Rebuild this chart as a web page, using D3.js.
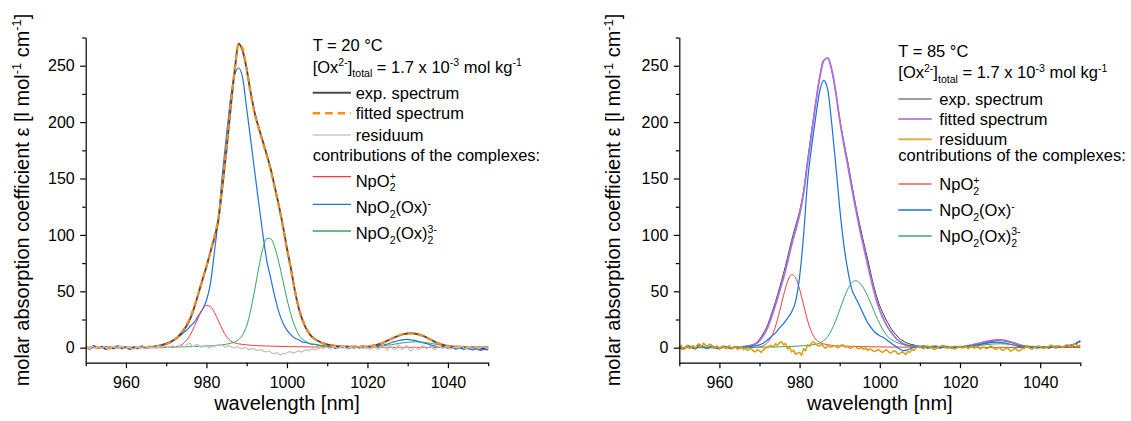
<!DOCTYPE html>
<html><head><meta charset="utf-8">
<script src="https://cdn.jsdelivr.net/npm/d3@7"></script>
<style>
body{margin:0;background:#fff}
svg{display:block}
text{font-family:"Liberation Sans",Arial,sans-serif;white-space:pre}
</style>
</head><body>
<svg id="c" width="1131" height="421"></svg>
<script>
// ---------- data ----------
const wavelengthStart = 950, wavelengthStep = 1, residuumStep = 0.5;
const xTicks = [960, 980, 1000, 1020, 1040];
const xMinorTicks = [950, 970, 990, 1010, 1030, 1050];
const yTicks = [0, 50, 100, 150, 200, 250];
const yMinorTicks = [25, 75, 125, 175, 225, 275];

// 20 °C panel (1 nm steps)
const leftExp = [0.5,-0.8,1.2,-0.3,0.9,-1.1,0.4,-0.6,1.0,-0.2,
 0.6,-0.9,0.3,-0.5,0.8,0.2,0.6,1.0,1.6,2.4,
 3.5,5.0,7.0,10,14,19,26,36,48,60,
 72,85,98,114,144,176,212,245,269.5,263,
 247,226,208,195,183,171,158,142,126,108,
 88,70,50,34,23,15.5,10.5,7.5,5.5,4,
 3,2.2,1.6,1.2,0.4,1.1,0.3,0.9,0.6,1.0,
 0.8,1.5,2.2,3.3,4.6,6.2,8.0,9.6,11.0,12.0,
 12.6,12.8,12.4,11.5,10.2,8.5,6.6,4.8,3.3,2.2,
 1.4,0.9,0.3,0.8,-0.2,0.5,-0.5,0.2,-0.8,-0.3,
 -0.6];
const leftFit = [0.1,0.1,0.1,0.1,0.1,0.1,0.2,0.2,0.2,0.2,
 0.3,0.3,0.3,0.4,0.5,0.6,0.8,1.0,1.4,2.0,
 3.0,4.5,6.8,10,14.5,20,27,37,48,60,
 72,85,99,116,145,178,214,246,269,265,
 247,225,207,194,182,170,157,141,125,107,
 87,69,50,35,24,16,11,7.5,5.2,3.6,
 2.6,2.0,1.6,1.3,1.1,1.0,1.0,1.0,1.0,1.1,
 1.3,1.7,2.4,3.4,4.7,6.3,8.0,9.6,11.0,12.0,
 12.6,12.7,12.3,11.4,10.1,8.4,6.6,4.9,3.5,2.4,
 1.7,1.2,0.9,0.7,0.6,0.5,0.5,0.4,0.4,0.4,
 0.4];
// residuum in 0.5 nm steps
const leftResiduum = [0.8,-0.3,-1.2,1.1,0.5,-0.6,1.4,0.2,-0.7,0.9,
 0.3,-1.0,-1.5,0.4,0.9,-0.8,-0.4,1.3,1.1,-0.5,
 -0.8,0.6,0.4,-1.1,-1.3,0.2,0.7,-0.9,-0.2,1.2,
 1.0,-0.4,-0.6,0.8,0.5,-0.7,1.2,0.1,-0.3,1.5,
 0.9,-0.2,0.4,1.7,1.3,0.1,0.6,2.0,1.8,0.9,
 2.2,3.9,3.5,1.2,1.6,2.9,2.4,0.6,0.8,1.9,
 1.4,-0.3,0.2,1.5,1.1,2.2,2.6,3.1,1.9,0.8,
 0.7,1.8,1.3,0.1,-0.2,0.9,0.4,-0.8,-0.6,0.3,
 -0.3,-1.6,-1.2,-0.6,-1.5,-2.4,-2.3,-1.6,-2.8,-3.5,
 -3.4,-2.7,-4.1,-4.8,-5.2,-4.4,-5.8,-6.4,-4.9,-5.5,
 -4.6,-3.6,-3.7,-4.8,-4.1,-3.1,-2.8,-3.9,-3.2,-2.2,
 -1.9,-2.8,-1.4,-0.8,-2.0,-1.1,-0.6,0.2,-0.9,0.5,
 0.3,-1.0,-0.8,0.7,0.6,-0.5,-0.4,1.1,0.9,-0.3,
 -1.1,0.6,0.2,-0.9,-0.5,0.8,0.8,-0.6,-0.9,0.7,
 0.4,-0.8,-1.3,0.9,1.0,-1.5,-0.6,1.4,1.6,-0.9,
 -2.2,1.2,0.9,-1.4,-1.8,2.4,2.1,-1.6,-0.7,1.8,
 1.4,-2.8,-2.5,1.0,0.8,-1.7,-1.2,2.0,1.7,-0.8,
 -0.4,1.2,0.6,-1.9,-1.5,0.9,1.1,-0.6,-0.3,0.8,
 0.7,-0.9,-1.0,0.6,0.4,-0.5,0.9,1.3,-0.6,-1.1,
 0.3,0.7,-0.8,0.2,1.2,-0.7,-0.2,0.9,0.6,-0.5,
 -0.4];
const leftNpO2 = [0,0,0,0,0,0,0,0,0,0,
 0,0,0,0,0,0,0,0,0.1,0.1,
 0.2,0.3,0.6,1.3,3.0,6.3,11.5,18.8,26.8,33.8,
 37.4,36.4,31.3,23.6,15.9,9.8,6.0,4.2,3.4,2.9,
 2.5,2.2,2.0,1.8,1.6,1.5,1.4,1.3,1.2,1.1,
 1.0,0.9,0.9,0.8,0.8,0.7,0.7,0.6,0.6,0.6,
 0.5,0.5,0.5,0.5,0.5,0.4,0.4,0.4,0.4,0.4,
 0.4,0.4,0.4,0.4,0.3,0.3,0.3,0.3,0.3,0.3,
 0.3,0.3,0.3,0.3,0.3,0.3,0.3,0.3,0.3,0.3,
 0.3,0.3,0.2,0.2,0.2,0.2,0.2,0.2,0.2,0.2,
 0.2];
const leftNpO2Ox = [0.9,-1.5,1.8,-0.4,0.6,1.3,-0.9,0.2,1.6,-1.1,
 0.4,-1.3,0.8,-0.7,1.5,0.3,0.9,1.2,1.9,2.3,
 3.6,4.8,6.9,9.1,12.4,15.3,19.2,22.6,28.4,34.1,
 41.8,57.0,85.5,116,155,189,221,242,248,239,
 212,184,156,128,101,77,61,45,31.5,21.8,
 15.6,11.4,8.3,6.9,4.8,4.4,3.1,2.9,2.2,1.6,
 0.9,1.8,-0.6,0.7,1.3,-0.9,0.5,1.1,-0.4,0.8,
 -0.2,1.0,0.6,1.6,2.4,3.3,4.6,5.5,6.6,7.0,
 7.3,6.8,6.2,5.1,4.2,3.4,2.1,1.3,0.4,0.9,
 -0.5,0.3,-1.2,-0.4,-1.6,-0.8,-2.0,-1.1,-2.4,-1.5,
 -2.0];
const leftNpO2Ox2 = [0.1,0.1,0.1,0.1,0.1,0.1,0.1,0.1,0.1,0.1,
 0.2,0.2,0.2,0.3,0.3,0.3,0.4,0.4,0.4,0.5,
 0.5,0.6,0.6,0.7,0.7,0.8,0.9,1.0,1.1,1.3,
 1.5,1.7,1.9,2.2,2.6,3.1,3.9,5.0,7.2,11.5,
 19.4,33.4,51.5,71.1,87.8,97.0,96.5,88.7,75.4,59.4,
 43.2,29.2,18.6,11.2,7.0,4.8,3.5,2.7,2.2,1.9,
 1.7,1.5,1.4,1.3,1.2,1.2,1.1,1.1,1.1,1.1,
 1.1,1.2,1.3,1.5,1.8,2.2,2.7,3.3,3.9,4.4,
 4.8,5.1,5.2,5.1,4.8,4.3,3.7,3.0,2.5,2.0,
 1.7,1.5,1.3,1.2,1.1,1.1,1.0,1.0,1.0,1.0,
 1.0];

// 85 °C panel (1 nm steps)
const rightExp = [0.6,-1.4,1.8,0.3,-0.9,2.4,1.1,-0.5,1.5,0.2,
 -0.8,1.2,0.4,-0.6,0.9,0.1,0.8,1.5,2.4,3.8,
 7.5,13,20,30,41,53,66,80,95,108,
 121,139,166,192,217,240,255,256.5,246,227,
 203,183,165,145,126,109,93,78,62,48,
 37,29,22,16,11.5,8,5.5,3.8,2.8,2.0,
 1.2,0.5,1.3,-0.2,0.9,0.4,1.1,-0.3,0.7,0.2,
 0.9,0.3,1.4,1.2,2.1,2.8,3.9,4.8,5.6,6.2,
 6.4,6.0,5.2,4.3,3.2,2.3,1.5,0.6,1.1,0.2,
 0.8,-0.4,1.0,0.5,-0.3,1.2,0.6,1.5,2.0,3.5,
 5.5];
const rightFit = [0.4,-1.1,1.5,0.6,-0.7,2.0,0.9,-0.2,1.2,0.5,
 -0.5,1.0,0.6,-0.3,0.7,0.4,1.0,1.3,2.0,3.2,
 6.0,11,17.5,27,38,50,62,76,91,104,
 118,137,164,190,216,239,254.5,257,247,227,
 202,181,162,142,123,105,89,73,58,44,
 33,25,18,13,8.5,5.5,3.2,1.8,1.2,1.6,
 0.8,1.4,0.3,1.1,0.5,-0.2,1.3,0.6,0.1,0.9,
 0.5,1.2,1.8,2.3,3.4,4.2,5.1,5.8,6.5,6.9,
 7.0,6.6,5.9,4.8,3.6,2.5,1.4,1.0,0.5,0.9,
 0.3,0.8,0.1,0.6,0.9,0.4,1.1,1.7,2.4,4.0,
 6.0];
// residuum in 0.5 nm steps
const rightResiduum = [0.5,2.1,-1.8,-0.4,2.2,-0.9,0.9,1.8,-0.6,2.7,
 3.4,0.6,4.1,2.3,1.2,3.0,2.6,-0.5,0.4,1.6,
 -1.0,0.8,1.5,-0.7,0.2,1.9,-1.4,0.5,1.1,-1.6,
 -0.3,0.9,-1.8,-0.4,-2.4,-0.9,-1.0,-3.1,-3.6,-1.7,
 -2.8,-4.2,-1.5,-0.3,0.4,1.5,1.8,0.6,3.6,2.2,
 4.4,5.4,2.5,3.8,-1.2,0.5,-3.8,-2.2,-5.9,-4.8,
 -4.1,-6.8,-0.8,-2.6,2.6,1.0,4.3,5.2,3.2,2.0,
 1.5,3.4,0.8,-0.6,2.1,0.9,0.4,1.9,1.6,-0.2,
 0.9,2.6,2.2,0.3,1.1,-0.5,-0.3,1.4,0.8,-0.8,
 -0.9,0.5,-1.6,-0.2,-2.4,-1.0,-1.8,-3.3,-3.1,-1.6,
 -2.5,-4.0,-3.6,-1.9,-2.9,-4.6,-4.2,-2.7,-3.4,-5.6,
 -5.1,-3.6,-4.6,-6.2,-3.2,-4.1,-1.5,-2.4,-0.4,0.9,
 0.8,-0.5,-0.9,1.2,1.5,-0.2,0.3,-1.5,-1.2,0.4,
 0.9,2.0,1.7,-0.1,-0.5,1.1,0.6,-1.2,-0.8,0.5,
 1.2,-0.4,0.1,1.3,-0.9,0.2,1.4,-0.6,0.5,1.2,
 -1.3,0.3,0.7,-0.9,-0.4,1.5,1.0,-0.8,-1.6,0.2,
 -0.6,-2.2,-1.9,-0.3,-0.8,-2.9,-2.4,-0.9,-1.1,-2.8,
 -2.6,-0.4,-0.9,1.1,0.6,-0.8,-1.4,0.5,0.3,1.6,
 1.1,-0.3,-0.7,0.9,0.8,2.2,1.9,0.1,0.2,1.7,
 1.4,0.2,0.9,2.6,2.2,1.0,1.6,3.4,2.8,1.5,
 2.4];
const rightNpO2 = [0,0,0,0,0,0,0,0,0,0,
 0,0,0,0,0,0,0,0,0.1,0.2,
 0.6,1.8,4.5,9.9,19.1,32.0,46.5,58.8,64.8,62.2,
 51.9,37.7,23.9,13.6,7.6,4.8,3.4,2.6,2.1,1.8,
 1.6,1.4,1.3,1.2,1.1,1.0,0.9,0.9,0.8,0.8,
 0.7,0.7,0.6,0.6,0.6,0.5,0.5,0.5,0.5,0.4,
 0.4,0.4,0.4,0.4,0.4,0.4,0.3,0.3,0.3,0.3,
 0.3,0.3,0.3,0.3,0.3,0.3,0.3,0.3,0.3,0.3,
 0.3,0.3,0.3,0.3,0.2,0.2,0.2,0.2,0.2,0.2,
 0.2,0.2,0.2,0.2,0.2,0.2,0.2,0.2,0.2,0.2,
 0.2];
const rightNpO2Ox = [0.8,-1.6,1.9,0.4,-1.0,2.1,0.7,-0.8,1.4,-0.3,
 -1.1,1.3,0.2,-0.9,0.6,-0.4,0.5,0.9,1.2,1.8,
 2.5,4.1,6.8,9.9,13.2,17.5,21.4,26.2,31.5,41.0,
 63,100,148,178,204,227,237,229,199,163,
 124,92,69,52,44,37,29,22,17,13,
 10.6,8.8,6.2,3.4,1.2,-1.4,-2.6,-1.8,-0.4,0.9,
 0.2,1.4,-0.5,0.8,1.6,-0.3,0.7,1.2,-0.6,0.4,
 1.1,0.5,1.5,2.0,2.2,2.9,3.5,4.2,4.6,5.0,
 4.8,4.3,3.5,2.6,1.8,0.9,1.3,0.2,0.8,-0.4,
 0.5,1.0,-0.3,0.7,1.4,0.2,1.1,1.8,2.5,3.9,
 6.2];
const rightNpO2Ox2 = [0.1,0.1,0.1,0.1,0.1,0.1,0.1,0.1,0.1,0.1,
 0.2,0.2,0.2,0.3,0.3,0.3,0.3,0.4,0.4,0.4,
 0.5,0.5,0.6,0.6,0.7,0.8,0.9,1.0,1.1,1.3,
 1.5,1.7,2.0,2.4,3.0,4.0,6.3,9.8,15.9,23.9,
 33.5,43.2,51.8,57.6,59.4,57.4,52.5,45.5,37.3,28.8,
 21.1,14.6,9.8,7.0,5.0,3.6,2.8,2.2,1.8,1.5,
 1.3,1.2,1.1,1.0,1.0,1.0,1.0,1.0,1.0,1.0,
 1.0,1.1,1.2,1.4,1.7,2.1,2.5,2.9,3.2,3.4,
 3.5,3.4,3.1,2.7,2.3,1.9,1.6,1.4,1.2,1.1,
 1.0,1.0,1.0,1.0,1.0,1.0,1.0,1.0,1.0,1.0,
 1.0];

const wavelengths = leftExp.map((_, i) => wavelengthStart + i * wavelengthStep);
const wavelengthsFine = leftResiduum.map((_, i) => wavelengthStart + i * residuumStep);

// ---------- drawing ----------
const svg = d3.select('#c');
svg.append('rect').attr('width', 1131).attr('height', 421).attr('fill', '#fff');
const FONT = '"Liberation Sans", Arial, sans-serif';

function rich(g, x, y, parts, size) {
  let cx = x, pending = 0;
  parts.forEach(p => {
    const fs = p.s ? size * 0.64 : size;
    const dy = p.s === 'sup' ? -size * 0.38 : (p.s === 'sub' ? size * 0.3 : 0);
    const t = g.append('text').attr('x', cx).attr('y', y + dy)
      .attr('font-size', fs).attr('fill', '#000').style('white-space', 'pre').text(p.t);
    const w = t.node().getComputedTextLength();
    if (p.stack) { pending = w; } else { cx += Math.max(w, pending); pending = 0; }
  });
  return cx - x;
}

const yScale = d3.scaleLinear().domain([-13.3, 275.2]).range([362.7, 37.3]);

const panels = [
  {
    xr: [85.7, 488.2], ytitleX: 28.5,
    temp: 'T = 20 °C',
    series: [
      {d: leftNpO2Ox, c: '#2470e0', w: 1.2},
      {d: leftNpO2, c: '#f03c3c', w: 1},
      {d: leftNpO2Ox2, c: '#2fa660', w: 1},
      {d: leftExp, c: '#4a4a4a', w: 1.9},
      {d: leftFit, c: '#ff8c1a', w: 2.2, dash: '6,4'},
      {d: leftResiduum, c: '#c4c4c4', w: 1.3, fine: true}
    ],
    legend: {x: 312.7, lineEnd: 351, textX: 355.7,
      tY: 50.7, oxY: 72.5,
      rows: [
        {y: 92.7, ty: 98.5, c: '#4a4a4a', w: 2, label: 'exp. spectrum'},
        {y: 113.3, ty: 119.3, c: '#ff8c1a', w: 2.4, dash: '7.5,5', label: 'fitted spectrum'},
        {y: 135, ty: 140.5, c: '#c8c8c8', w: 1.5, label: 'residuum'}
      ],
      contribY: 161,
      comps: [
        {y: 176.7, ty: 186.5, c: '#f03c3c', k: 0},
        {y: 204.3, ty: 213.3, c: '#2470e0', k: 1},
        {y: 231, ty: 239.3, c: '#2fa660', k: 2}
      ]}
  },
  {
    xr: [679.3, 1080.3], ytitleX: 620.2,
    temp: 'T = 85 °C',
    series: [
      {d: rightExp, c: '#3c3c3c', w: 1},
      {d: rightFit, c: '#ad6fe0', w: 1.8},
      {d: rightNpO2, c: '#f03c3c', w: 1},
      {d: rightNpO2Ox, c: '#1a6fe0', w: 1.2},
      {d: rightNpO2Ox2, c: '#2fa660', w: 1},
      {d: rightResiduum, c: '#d4a010', w: 1.5, fine: true}
    ],
    legend: {x: 898.3, lineEnd: 931.7, textX: 939.3,
      tY: 57.3, oxY: 78.3,
      rows: [
        {y: 99, ty: 104.5, c: '#3c3c3c', w: 1, label: 'exp. spectrum'},
        {y: 119, ty: 124.5, c: '#b886e6', w: 2, label: 'fitted spectrum'},
        {y: 139.3, ty: 145, c: '#d8b048', w: 2, label: 'residuum'}
      ],
      contribY: 161,
      comps: [
        {y: 184, ty: 190, c: '#f06060', k: 0},
        {y: 210, ty: 216, c: '#1a6fe0', k: 1},
        {y: 236, ty: 241.7, c: '#40a870', k: 2}
      ]}
  }
];

const compLabels = [
  [{t: 'NpO'}, {t: '2', s: 'sub', stack: true}, {t: '+', s: 'sup'}],
  [{t: 'NpO'}, {t: '2', s: 'sub'}, {t: '(Ox)'}, {t: '-', s: 'sup'}],
  [{t: 'NpO'}, {t: '2', s: 'sub'}, {t: '(Ox)'}, {t: '2', s: 'sub', stack: true}, {t: '3-', s: 'sup'}]
];

panels.forEach(P => {
  const x = d3.scaleLinear().domain([950, 1050]).range(P.xr);
  const g = svg.append('g');

  // curves
  P.series.forEach(s => {
    const xs = s.fine ? wavelengthsFine : wavelengths;
    const gen = d3.line().x((v, i) => x(xs[i])).y(v => yScale(v))
      .curve(s.fine ? d3.curveLinear : d3.curveMonotoneX);
    g.append('path').attr('d', gen(s.d)).attr('fill', 'none')
      .attr('stroke', s.c).attr('stroke-width', s.w)
      .attr('stroke-dasharray', s.dash || null).attr('stroke-linejoin', 'round');
  });

  // axes
  const xa = g.append('g').attr('transform', `translate(0,${yScale.range()[0]})`)
    .call(d3.axisBottom(x).tickValues(xTicks).tickSize(5.5).tickSizeOuter(0).tickPadding(8).tickFormat(d3.format('d')));
  g.append('g').attr('transform', `translate(0,${yScale.range()[0]})`)
    .call(d3.axisBottom(x).tickValues(xMinorTicks).tickSize(3.5).tickSizeOuter(0).tickFormat(''))
    .call(a => a.select('.domain').remove());
  const ya = g.append('g').attr('transform', `translate(${P.xr[0]},0)`)
    .call(d3.axisLeft(yScale).tickValues(yTicks).tickSize(5.5).tickSizeOuter(0).tickPadding(5.5).tickFormat(d3.format('d')));
  g.append('g').attr('transform', `translate(${P.xr[0]},0)`)
    .call(d3.axisLeft(yScale).tickValues(yMinorTicks).tickSize(3.5).tickSizeOuter(0).tickFormat(''))
    .call(a => a.select('.domain').remove());
  g.selectAll('.domain, .tick line').attr('stroke', '#000').attr('stroke-width', 1.2);
  [xa, ya].forEach(a => a.selectAll('text').attr('font-size', 16).attr('font-family', FONT).attr('fill', '#000'));
  g.selectAll('g').attr('font-family', FONT);

  // axis titles
  g.append('text').attr('x', (P.xr[0] + P.xr[1]) / 2).attr('y', 410)
    .attr('text-anchor', 'middle').attr('font-size', 20).text('wavelength [nm]');
  const yt = g.append('g').attr('transform', `translate(${P.ytitleX},200) rotate(-90)`);
  const inner = yt.append('g');
  const tw = rich(inner, 0, 0, [
    {t: 'molar absorption coefficient ε [l mol'}, {t: '-1', s: 'sup'},
    {t: ' cm'}, {t: '-1', s: 'sup'}, {t: ']'}], 20);
  inner.attr('transform', `translate(${-tw / 2},0)`);

  // legend
  const L = P.legend, lg = g.append('g');
  lg.append('text').attr('x', L.x).attr('y', L.tY).attr('font-size', 16.5).text(P.temp);
  rich(lg, L.x, L.oxY, [{t: '[Ox'}, {t: '2-', s: 'sup'}, {t: ']'}, {t: 'total', s: 'sub'},
    {t: ' = 1.7 x 10'}, {t: '-3', s: 'sup'}, {t: ' mol kg'}, {t: '-1', s: 'sup'}], 16.5);
  L.rows.forEach(r => {
    lg.append('line').attr('x1', L.x).attr('x2', L.lineEnd).attr('y1', r.y).attr('y2', r.y)
      .attr('stroke', r.c).attr('stroke-width', r.w).attr('stroke-dasharray', r.dash || null);
    lg.append('text').attr('x', L.textX).attr('y', r.ty).attr('font-size', 16.5).text(r.label);
  });
  lg.append('text').attr('x', L.x).attr('y', L.contribY).attr('font-size', 16.5).text('contributions of the complexes:');
  L.comps.forEach(r => {
    lg.append('line').attr('x1', L.x).attr('x2', L.lineEnd).attr('y1', r.y).attr('y2', r.y)
      .attr('stroke', r.c).attr('stroke-width', 1.3);
    rich(lg, L.textX, r.ty, compLabels[r.k], 16.5);
  });
});
</script>
</body></html>
